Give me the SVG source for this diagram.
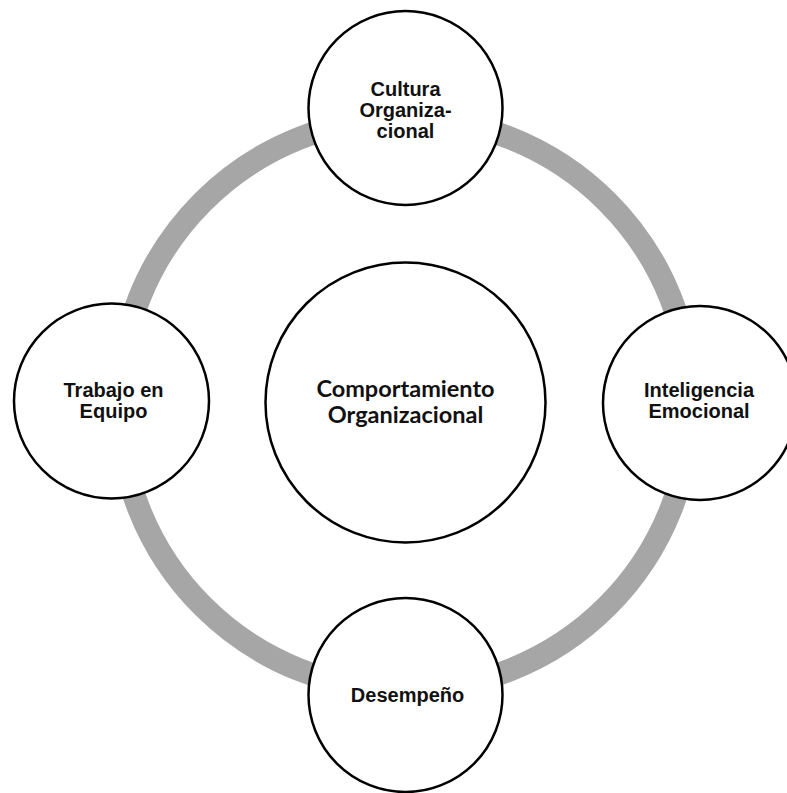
<svg xmlns="http://www.w3.org/2000/svg" width="787" height="793" viewBox="0 0 787 793">
<style>
.node circle{fill:#fff;stroke:#000;stroke-width:2.5}
.lbl{font-family:"Liberation Sans",Arial,sans-serif;font-weight:bold;font-size:20px;fill:#111;text-anchor:middle}
.main{font-family:Lato,"Open Sans",sans-serif;font-weight:bold;font-size:23.5px;fill:#111;text-anchor:middle}
</style>
<rect width="787" height="793" fill="#fff"/>
<g id="connectors">
<circle cx="405" cy="404" r="286" fill="none" stroke="#a6a6a6" stroke-width="23"/>
</g>
<g id="center" class="node">
<circle cx="405.5" cy="402.5" r="140"/>
<text class="main" x="405.5" y="396.5">Comportamiento</text>
<text class="main" x="405.5" y="422.5">Organizacional</text>
</g>
<g id="cultura" class="node">
<circle cx="405.5" cy="108" r="97"/>
<text class="lbl" x="405.5" y="96">Cultura</text>
<text class="lbl" x="405.5" y="117">Organiza-</text>
<text class="lbl" x="405.5" y="138">cional</text>
</g>
<g id="trabajo" class="node">
<circle cx="111.5" cy="401" r="97.5"/>
<text class="lbl" x="113.5" y="397">Trabajo en</text>
<text class="lbl" x="113.5" y="418">Equipo</text>
</g>
<g id="inteligencia" class="node">
<circle cx="700" cy="403" r="97"/>
<text class="lbl" x="699" y="397">Inteligencia</text>
<text class="lbl" x="699" y="418">Emocional</text>
</g>
<g id="desempeno" class="node">
<circle cx="405.5" cy="695" r="97"/>
<text class="lbl" x="407.5" y="702">Desempeño</text>
</g>
</svg>
